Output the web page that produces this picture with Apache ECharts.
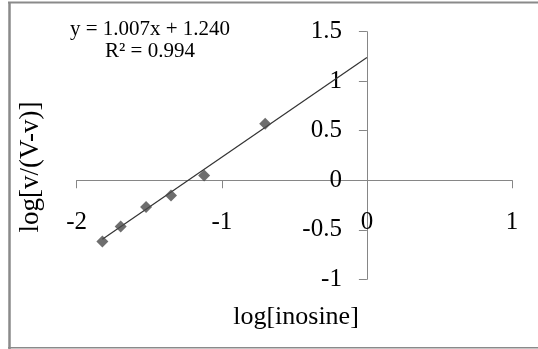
<!DOCTYPE html>
<html>
<head>
<meta charset="utf-8">
<script src="https://cdn.jsdelivr.net/npm/echarts@6/dist/echarts.min.js"></script>
<style>
  html, body { margin: 0; padding: 0; background: #fff; }
  #chart { width: 538px; height: 349px; }
</style>
</head>
<body>
<div id="chart"></div>
<script>
// Measured points: log[inosine] vs log[v/(V-v)]
const logInosine = [-1.823, -1.697, -1.522, -1.350, -1.122, -0.701];
const logRatio   = [-0.618, -0.467, -0.271, -0.154,  0.048,  0.571];

// Linear fit reported on the chart
const slope = 1.007;
const intercept = 1.240;
const rSquared = 0.994;

const xTicks = { min: -2, max: 1, step: 1 };
const yTicks = { min: -1, max: 1.5, step: 0.5 };

const serif = "'Liberation Serif', 'Times New Roman', serif";

const W = 538, H = 349;
const grid = { left: 76.7, right: 26, top: 31.7, bottom: 69.7 };
const plotW = W - grid.left - grid.right;
const plotH = H - grid.top - grid.bottom;
// Axes cross at the origin: shift each axis from the grid edge to the zero line
const xAxisOffset = -plotH * (0 - yTicks.min) / (yTicks.max - yTicks.min);
const yAxisOffset = -plotW * (0 - xTicks.min) / (xTicks.max - xTicks.min);

const points = logInosine.map((x, i) => [x, logRatio[i]]);
// Trendline runs from the smallest measured x forward to x = 0
const xStart = Math.min(...logInosine);
const trend = [[xStart, slope * xStart + intercept], [0, intercept]];

const chart = echarts.init(document.getElementById('chart'), null, { renderer: 'canvas' });

chart.setOption({
  animation: false,
  backgroundColor: '#ffffff',
  grid: Object.assign({ containLabel: false }, grid),
  xAxis: {
    type: 'value',
    min: xTicks.min, max: xTicks.max, interval: xTicks.step,
    offset: xAxisOffset,
    axisLine: { onZero: false, lineStyle: { color: '#868686', width: 1 } },
    axisTick: { show: true, length: 8, lineStyle: { color: '#868686' } },
    axisLabel: { margin: 30, fontFamily: serif, fontSize: 25, color: '#000' },
    splitLine: { show: false }
  },
  yAxis: {
    type: 'value',
    min: yTicks.min, max: yTicks.max, interval: yTicks.step,
    offset: yAxisOffset,
    axisLine: { onZero: false, lineStyle: { color: '#868686', width: 1 } },
    axisTick: { show: true, length: 8, lineStyle: { color: '#868686' } },
    axisLabel: { margin: 25, fontFamily: serif, fontSize: 25, color: '#000' },
    splitLine: { show: false }
  },
  series: [
    {
      type: 'line',
      data: trend,
      symbol: 'none',
      lineStyle: { color: '#333333', width: 1.2 },
      z: 2
    },
    {
      type: 'scatter',
      data: points,
      symbol: 'diamond',
      symbolSize: [12, 12],
      itemStyle: { color: '#4a4a4a' },
      z: 3
    }
  ],
  graphic: [
    // outer frame
    { type: 'line', shape: { x1: 8, y1: 2.5, x2: 538, y2: 2.5 }, style: { stroke: '#8a8a8a', lineWidth: 2 } },
    { type: 'line', shape: { x1: 9.5, y1: 2, x2: 9.5, y2: 349 }, style: { stroke: '#8a8a8a', lineWidth: 2.5 } },
    { type: 'line', shape: { x1: 8, y1: 347.8, x2: 538, y2: 347.8 }, style: { stroke: '#8a8a8a', lineWidth: 1.5 } },
    // fit equation
    {
      type: 'text', x: 150, y: 29,
      style: { text: 'y = ' + slope.toFixed(3) + 'x + ' + intercept.toFixed(3), font: '21px ' + serif, fill: '#000', align: 'center', verticalAlign: 'middle' }
    },
    {
      type: 'text', x: 150, y: 51.5,
      style: { text: 'R² = ' + rSquared.toFixed(3), font: '21px ' + serif, fill: '#000', align: 'center', verticalAlign: 'middle' }
    },
    // axis titles
    {
      type: 'text', x: 296, y: 317,
      style: { text: 'log[inosine]', font: '26px ' + serif, fill: '#000', align: 'center', verticalAlign: 'middle' }
    },
    {
      type: 'text', x: 31, y: 167, rotation: Math.PI / 2,
      style: { text: 'log[v/(V-v)]', font: '27px ' + serif, fill: '#000', align: 'center', verticalAlign: 'middle' }
    }
  ]
});
</script>
</body>
</html>
